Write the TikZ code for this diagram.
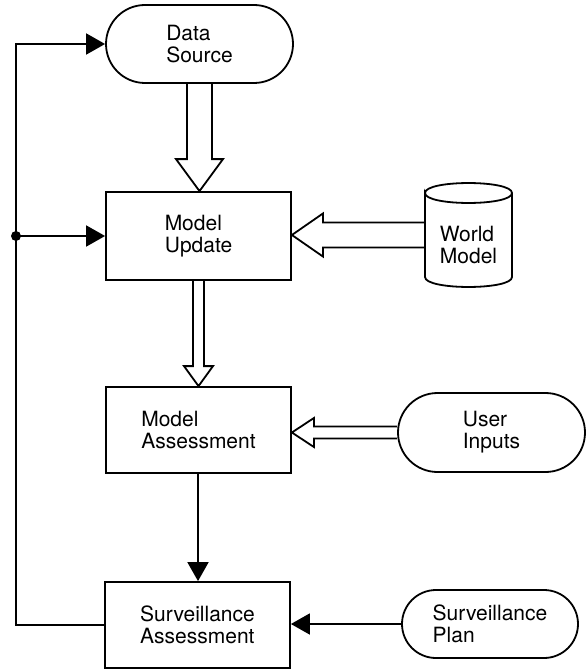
\documentclass[tikz,border=0pt]{standalone}
\usepackage{fontspec}
\setmainfont{TeX Gyre Heros}
\usetikzlibrary{shapes.misc,arrows.meta,calc}

% Wide outlined arrow pointing down: from, to, shaft half-width, head half-width, head length
\newcommand{\fatdown}[5]{%
  \draw let \p1=(#1), \p2=(#2) in
    ({\x1-#3},\y1) -- ({\x1-#3},{\y2+#5}) -- ({\x1-#4},{\y2+#5}) -- (\x1,\y2)
    -- ({\x1+#4},{\y2+#5}) -- ({\x1+#3},{\y2+#5}) -- ({\x1+#3},\y1);}
% Wide outlined arrow pointing left: from, to, shaft half-width, head half-width, head length
\newcommand{\fatleft}[5]{%
  \draw let \p1=(#1), \p2=(#2) in
    (\x1,{\y1+#3}) -- ({\x2+#5},{\y1+#3}) -- ({\x2+#5},{\y1+#4}) -- (\x2,\y1)
    -- ({\x2+#5},{\y1-#4}) -- ({\x2+#5},{\y1-#3}) -- (\x1,{\y1-#3});}

\begin{document}
\begin{tikzpicture}[x=1pt,y=-1pt,line width=1.8pt,line join=miter,
  lbl/.style={font=\fontsize{21}{22}\selectfont,align=left,inner sep=0pt},
  procbox/.style={lbl,draw,rectangle,minimum width=185pt,minimum height=86pt},
  terminal/.style={lbl,draw,rounded rectangle,minimum width=187pt,minimum height=78pt},
  flow/.style={-{Triangle[length=19pt,width=21pt]}}]

\useasboundingbox (0,0) rectangle (586,669);

% processing steps
\node[procbox,minimum height=88pt] (mu) at (198.5,236) {Model\\Update};
\node[procbox] (ma) at (198.5,430) {Model\\Assessment};
\node[procbox] (sa) at (197.5,625) {Surveillance\\Assessment};

% sources and inputs
\node[terminal] (ds) at (199.5,44) {Data\\Source};
\node[terminal,minimum height=79pt] (ui) at (491.5,432.5) {User\\Inputs};
\node[terminal,minimum width=176pt,minimum height=68pt] (sp) at (490,624) {Surveillance\\Plan};

% world model store
\node[minimum width=87pt,minimum height=104pt,inner sep=0pt] (wm) at (468.5,235) {};
\node[lbl] (wmtext) at (468.5,245) {World\\Model};
\draw (425,193) .. controls (425,179.7) and (512,179.7) .. (512,193)
                .. controls (512,206.3) and (425,206.3) .. (425,193)
      -- (425,277) .. controls (425,290.3) and (512,290.3) .. (512,277) -- (512,193);

% wide data-flow arrows
\fatdown{ds.south}{mu.north}{12.5pt}{23.5pt}{32pt}
\fatdown{mu.south}{ma.north}{5.5pt}{14.5pt}{20pt}
\fatleft{wm.west}{mu.east}{12.5pt}{21.5pt}{31pt}
\fatleft{ui.west}{ma.east}{6pt}{14.5pt}{22pt}

% control flow
\draw[flow] ([xshift=-0.5pt]ma.south) -- ([xshift=-0.5pt]ma.south |- sa.north);
\draw[flow] (sp.west) -- (sp.west -| sa.east);

% feedback loop
\coordinate (rail) at (16,0);
\coordinate (jn) at (rail |- mu.west);
\draw[flow] (sa.west) -- (sa.west -| rail) -- (rail |- ds.west) -- (ds.west);
\draw[flow] (jn) -- (mu.west);
\fill (jn) circle (5pt);
\end{tikzpicture}
\end{document}
